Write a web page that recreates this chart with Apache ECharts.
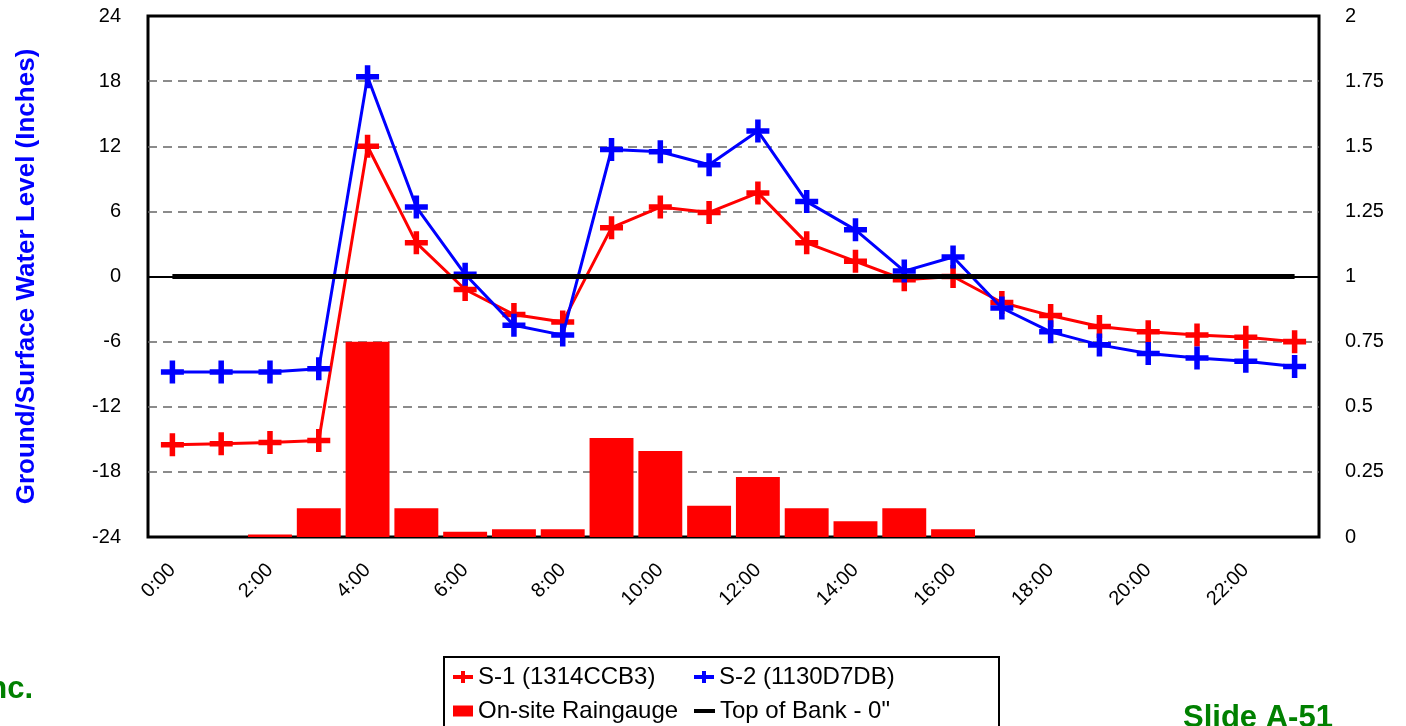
<!DOCTYPE html>
<html>
<head>
<meta charset="utf-8">
<script src="https://cdn.jsdelivr.net/npm/echarts@6/dist/echarts.min.js"></script>
<style>
html,body{margin:0;padding:0;background:#fff;}
#chart{width:1406px;height:726px;}
</style>
</head>
<body>
<div id="chart"></div>
<script>
// ---- data ----
const hours = ['0:00','1:00','2:00','3:00','4:00','5:00','6:00','7:00','8:00','9:00','10:00','11:00','12:00','13:00','14:00','15:00','16:00','17:00','18:00','19:00','20:00','21:00','22:00','23:00'];
const rainfall = [0,0,0.01,0.11,0.75,0.11,0.02,0.03,0.03,0.38,0.33,0.12,0.23,0.11,0.06,0.11,0.03,0,0,0,0,0,0,0];
const s1 = [-15.5,-15.4,-15.3,-15.1,12.0,3.1,-1.2,-3.5,-4.2,4.5,6.4,5.9,7.7,3.1,1.4,-0.3,0.0,-2.4,-3.6,-4.6,-5.1,-5.4,-5.6,-6.0];
const s2 = [-8.8,-8.8,-8.8,-8.5,18.4,6.4,0.2,-4.5,-5.4,11.7,11.5,10.3,13.4,6.9,4.3,0.5,1.8,-2.9,-5.1,-6.3,-7.1,-7.5,-7.8,-8.3];
const topOfBank = [0,0,0,0,0,0,0,0,0,0,0,0,0,0,0,0,0,0,0,0,0,0,0,0];
const leftTicks = {min:-24, max:24, interval:6};
const rightTicks = {min:0, max:2, interval:0.25};
const names = {s1:'S-1 (1314CCB3)', s2:'S-2 (1130D7DB)', rain:'On-site Raingauge', bank:'Top of Bank - 0"'};

const FONT = "'Liberation Sans', Arial, sans-serif";
const PLUS = 'path://M-2.4,-10 L2.4,-10 L2.4,-2.4 L10,-2.4 L10,2.4 L2.4,2.4 L2.4,10 L-2.4,10 L-2.4,2.4 L-10,2.4 L-10,-2.4 L-2.4,-2.4 Z';
const PLUS_LEG = 'path://M8,0 L12,0 L12,4 L20,4 L20,8 L12,8 L12,12 L8,12 L8,8 L0,8 L0,4 L8,4 Z';

const chart = echarts.init(document.getElementById('chart'), null, {renderer:'canvas'});
const legText = {fontFamily:FONT, fontSize:24, color:'#000', lineHeight:26};
function leg(name, left, top, icon, w, h){
  return {data:[name], left:left, top:top, icon:icon, itemWidth:w, itemHeight:h, itemGap:0, padding:0,
    selectedMode:false, textStyle:legText};
}
const option = {
  animation:false,
  backgroundColor:'#fff',
  textStyle:{fontFamily:FONT},
  grid:{left:148, right:87, top:16, bottom:189, show:true, borderColor:'#000', borderWidth:3, backgroundColor:'transparent'},
  legend:[
    leg(names.s1, 453, 664, PLUS_LEG, 20, 12),
    leg(names.s2, 694, 664, PLUS_LEG, 20, 12),
    leg(names.rain, 453, 698, 'rect', 20, 11),
    leg(names.bank, 694, 698, 'rect', 21, 4)
  ],
  graphic:[
    {type:'rect', z:-1, shape:{x:444, y:657, width:555, height:90}, style:{fill:'#fff', stroke:'#000', lineWidth:2}},
    {type:'text', style:{text:'Inc.', x:33, y:705, textAlign:'right', textVerticalAlign:'bottom', font:"bold 31px 'Liberation Sans', Arial", fill:'#008000'}},
    {type:'text', style:{text:'Slide A-51', x:1183, y:734, textAlign:'left', textVerticalAlign:'bottom', font:"bold 31px 'Liberation Sans', Arial", fill:'#008000'}}
  ],
  xAxis:{type:'category', data:hours, boundaryGap:true,
    axisLine:{show:false}, axisTick:{show:false}, splitLine:{show:false},
    axisLabel:{interval:1, rotate:45, margin:30, fontSize:20, color:'#000', fontFamily:FONT}},
  yAxis:[
    {type:'value', min:leftTicks.min, max:leftTicks.max, interval:leftTicks.interval, position:'left',
      name:'Ground/Surface Water Level (Inches)', nameLocation:'middle', nameGap:108,
      nameTextStyle:{color:'#0000ff', fontWeight:'bold', fontSize:26, fontFamily:FONT},
      axisLine:{show:false}, axisTick:{show:false},
      axisLabel:{fontSize:20, color:'#000', margin:27, fontFamily:FONT},
      splitLine:{show:true, showMinLine:false, showMaxLine:false, lineStyle:{color:'#666', width:1.5, type:[9,6]}}},
    {type:'value', min:rightTicks.min, max:rightTicks.max, interval:rightTicks.interval, position:'right',
      axisLine:{show:false}, axisTick:{show:false}, splitLine:{show:false},
      axisLabel:{fontSize:20, color:'#000', margin:26, fontFamily:FONT}}
  ],
  series:[
    {name:names.rain, type:'bar', yAxisIndex:1, data:rainfall, barWidth:'90%',
      itemStyle:{color:'#ff0000'}, z:1},
    {name:names.s1, type:'line', data:s1, symbol:PLUS, symbolSize:23, showAllSymbol:true,
      lineStyle:{color:'#ff0000', width:3}, itemStyle:{color:'#ff0000', borderWidth:0}, z:3},
    {name:names.s2, type:'line', data:s2, symbol:PLUS, symbolSize:23, showAllSymbol:true,
      lineStyle:{color:'#0000ff', width:3}, itemStyle:{color:'#0000ff', borderWidth:0}, z:4},
    {name:names.bank, type:'line', data:topOfBank, symbol:'none',
      lineStyle:{color:'#000', width:5}, itemStyle:{color:'#000'}, z:5,
      markLine:{silent:true, symbol:'none', label:{show:false}, lineStyle:{color:'#000', width:2, type:'solid'},
        data:[{yAxis:0}]}}
  ]
};
chart.setOption(option);
</script>
</body>
</html>
